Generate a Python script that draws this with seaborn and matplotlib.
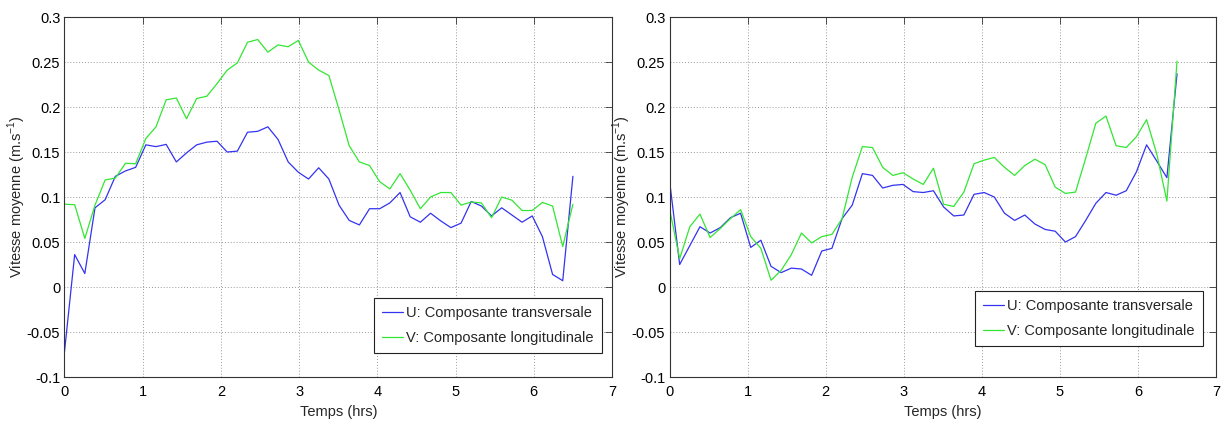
import numpy as np
import pandas as pd
import matplotlib
matplotlib.use('Agg')
import matplotlib.pyplot as plt
from matplotlib.ticker import FuncFormatter
import seaborn as sns

# temps (hrs) : pas de 0.13 h, 51 mesures
temps = np.round(np.arange(51) * 0.13, 2)

# graphe de gauche
u_gauche = [-0.072, 0.036, 0.015, 0.088, 0.097, 0.123, 0.129, 0.133, 0.158, 0.156,
            0.1585, 0.139, 0.149, 0.158, 0.161, 0.162, 0.150, 0.151, 0.172, 0.173,
            0.178, 0.164, 0.139, 0.1275, 0.120, 0.1325, 0.120, 0.091, 0.074, 0.069,
            0.087, 0.087, 0.0935, 0.105, 0.078, 0.072, 0.082, 0.0735, 0.066, 0.071,
            0.095, 0.090, 0.079, 0.088, 0.080, 0.072, 0.079, 0.056, 0.014, 0.007, 0.123]
v_gauche = [0.092, 0.0915, 0.054, 0.091, 0.119, 0.121, 0.1375, 0.137, 0.165, 0.178,
            0.208, 0.210, 0.187, 0.2095, 0.212, 0.226, 0.241, 0.249, 0.272, 0.275,
            0.261, 0.269, 0.267, 0.274, 0.250, 0.241, 0.235, 0.197, 0.157, 0.139,
            0.135, 0.117, 0.109, 0.126, 0.1075, 0.087, 0.100, 0.105, 0.105, 0.091,
            0.0945, 0.0935, 0.077, 0.100, 0.0965, 0.085, 0.085, 0.094, 0.090, 0.045, 0.092]

# graphe de droite
u_droite = [0.1185, 0.025, 0.046, 0.067, 0.060, 0.066, 0.077, 0.082, 0.044, 0.052,
            0.023, 0.016, 0.021, 0.020, 0.013, 0.040, 0.043, 0.076, 0.091, 0.126,
            0.124, 0.110, 0.113, 0.114, 0.106, 0.105, 0.107, 0.089, 0.079, 0.080,
            0.103, 0.105, 0.100, 0.082, 0.074, 0.080, 0.070, 0.064, 0.062, 0.050,
            0.056, 0.074, 0.093, 0.105, 0.102, 0.107, 0.128, 0.158, 0.140, 0.1215, 0.237]
v_droite = [0.087, 0.0315, 0.067, 0.081, 0.055, 0.065, 0.076, 0.086, 0.056, 0.043,
            0.0075, 0.0185, 0.036, 0.060, 0.049, 0.056, 0.0585, 0.076, 0.122, 0.156,
            0.155, 0.133, 0.124, 0.127, 0.120, 0.114, 0.132, 0.092, 0.0895, 0.1055,
            0.137, 0.141, 0.144, 0.133, 0.124, 0.135, 0.142, 0.136, 0.111, 0.104,
            0.1055, 0.143, 0.182, 0.190, 0.157, 0.155, 0.167, 0.186, 0.148, 0.0955, 0.251]

labels = ['U: Composante transversale', 'V: Composante longitudinale']
couleurs = ['#3333f0', '#33e633']
x_ticks = [0, 1, 2, 3, 4, 5, 6, 7]
y_ticks = [-0.1, -0.05, 0, 0.05, 0.1, 0.15, 0.2, 0.25, 0.3]

sns.set_style('white')
plt.rcParams['font.family'] = ['Liberation Sans', 'DejaVu Sans']
plt.rcParams['mathtext.fontset'] = 'custom'
plt.rcParams['mathtext.rm'] = 'Liberation Sans'
plt.rcParams['axes.unicode_minus'] = False

fig = plt.figure(figsize=(12.26, 4.26), dpi=100)
ax1 = fig.add_axes([0.0526, 0.115, 0.4466, 0.845])
ax2 = fig.add_axes([0.5461, 0.115, 0.4458, 0.845])

panneaux = [(ax1, u_gauche, v_gauche, (0.9817, 0.0667)),
            (ax2, u_droite, v_droite, (0.976, 0.086))]

for ax, u, v, pos in panneaux:
    df = pd.DataFrame({'t': temps, 'U': u, 'V': v})
    sns.lineplot(data=df, x='t', y='U', color=couleurs[0], lw=0.9, label=labels[0], ax=ax)
    sns.lineplot(data=df, x='t', y='V', color=couleurs[1], lw=0.9, label=labels[1], ax=ax)
    ax.set_xlim(0, 7)
    ax.set_ylim(-0.1, 0.3)
    ax.set_xticks(x_ticks)
    ax.set_yticks(y_ticks)
    ax.yaxis.set_major_formatter(FuncFormatter(lambda val, p: '%g' % round(val, 3)))
    ax.grid(True, color='#9a9a9a', linestyle=(0, (1, 2)), lw=0.7)
    ax.tick_params(direction='in', length=5, width=0.6, top=True, right=True,
                   labelsize=10.5, colors='#333333', labelcolor='black')
    ax.tick_params(axis='x', pad=6)
    ax.tick_params(axis='y', pad=3)
    for s in ax.spines.values():
        s.set_color('#333333')
        s.set_linewidth(0.8)
    ax.set_xlabel('Temps (hrs)', fontsize=10.5, labelpad=4)
    ax.set_ylabel('Vitesse moyenne (m.s$^{-1}$)', fontsize=10.5)
    ax.yaxis.set_label_coords(-0.066, 0.5)
    leg = ax.legend(loc='lower right', bbox_to_anchor=pos, borderaxespad=0,
                    fontsize=10.5, frameon=True, fancybox=False, framealpha=1,
                    edgecolor='#222222', handlelength=1.4, handletextpad=0.25,
                    borderpad=0.55, labelspacing=0.75)
    leg.get_frame().set_linewidth(0.8)

fig.savefig('out.png', dpi=100)
